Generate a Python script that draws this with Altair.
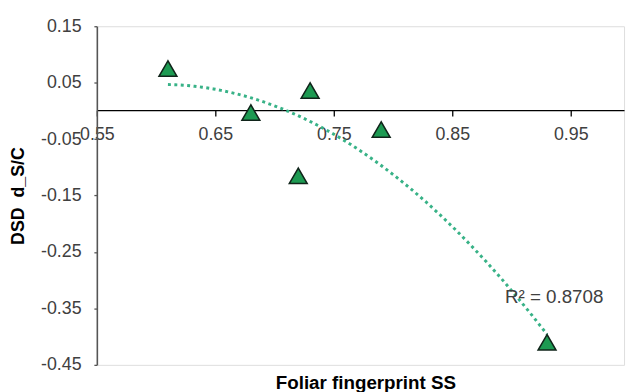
import altair as alt
import pandas as pd

# data
x_vals = [0.61, 0.68, 0.73, 0.72, 0.79, 0.93]
y_vals = [0.075, -0.003, 0.036, -0.115, -0.033, -0.41]

r2_label = ["R\u00b2 = 0.8708"]
r2_x = [0.936]
r2_y = [-0.329]

x_ticks = [0.55, 0.65, 0.75, 0.85, 0.95]
y_ticks = [0.15, 0.05, -0.05, -0.15, -0.25, -0.35, -0.45]

df = pd.DataFrame({"x": x_vals, "y": y_vals})
ann = pd.DataFrame({"label": r2_label, "x": r2_x, "y": r2_y})

FONT = "Liberation Sans"
W, H = 534, 343
LABEL_EXPR = "(datum.value < 0 ? '-' : '') + format(abs(datum.value), '.2f')"

xscale = alt.Scale(domain=[0.55, 0.995], nice=False, zero=False)
yscale = alt.Scale(domain=[-0.45, 0.15], nice=False, zero=False)

xaxis = alt.Axis(
    values=x_ticks, labelExpr=LABEL_EXPR, title="Foliar fingerprint SS",
    offset=-258, grid=False, domainColor="#000000", domainWidth=1.3,
    tickColor="#000000", tickSize=6, tickWidth=1.3,
    labelFont=FONT, labelFontSize=18, labelColor="#404040", labelPadding=10,
    labelFlush=False, labelOverlap=False,
    titleFont=FONT, titleFontSize=19, titleFontWeight="bold", titleColor="#000000",
    titleX=272, titleY=276, titleBaseline="middle",
)
yaxis = alt.Axis(
    values=y_ticks, labelExpr=LABEL_EXPR, title="DSD\u00a0 d_S/C",
    grid=False, domainColor="#555555", domainWidth=1.6,
    tickColor="#555555", tickSize=3, tickWidth=1.3,
    labelFont=FONT, labelFontSize=18, labelColor="#404040", labelPadding=13,
    labelFlush=False, labelOverlap=False,
    titleFont=FONT, titleFontSize=18, titleFontWeight="bold", titleColor="#000000",
    titleX=-79, titleBaseline="middle", titleAngle=270,
)

base = alt.Chart(df)

trend = base.transform_regression("x", "y", method="poly", order=2).mark_line(
    color="#38b287", strokeWidth=3, strokeDash=[3, 3.5], strokeCap="butt"
).encode(
    x=alt.X("x:Q", scale=xscale, axis=xaxis),
    y=alt.Y("y:Q", scale=yscale, axis=yaxis),
)

points = base.mark_point(
    shape="triangle-up", size=330, filled=True, fill="#1d9a52",
    stroke="#10241a", strokeWidth=1.5, opacity=1,
).encode(
    x=alt.X("x:Q", scale=xscale),
    y=alt.Y("y:Q", scale=yscale),
)

text = alt.Chart(ann).mark_text(
    font=FONT, fontSize=19, color="#404040", align="center", baseline="middle"
).encode(
    x=alt.X("x:Q", scale=xscale),
    y=alt.Y("y:Q", scale=yscale),
    text="label:N",
)

chart = (trend + points + text).properties(
    width=W, height=H,
    autosize=alt.AutoSizeParams(type="none"),
    padding={"left": 90, "top": 16, "right": 3, "bottom": 25},
).configure_view(stroke=None).configure(background="white")

chart.save("out.html", embed_options={"renderer": "svg", "actions": False})
